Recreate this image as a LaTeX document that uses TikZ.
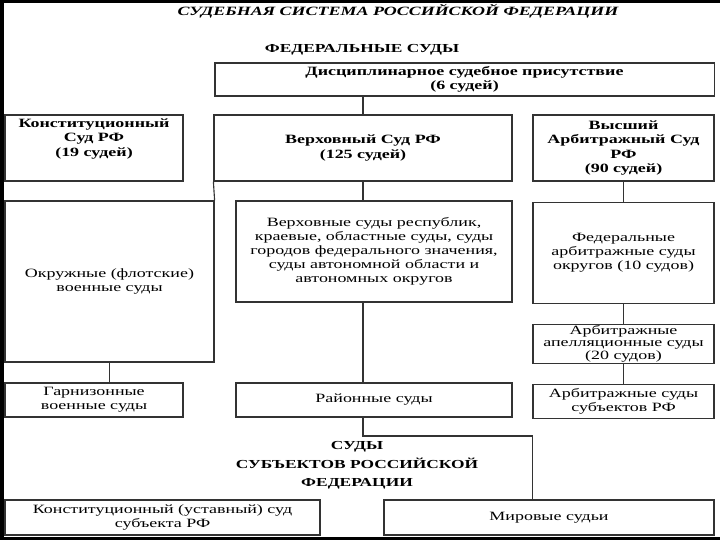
\documentclass[tikz,border=0pt]{standalone}
\usepackage{fontspec}
\setmainfont{Liberation Serif}[FakeStretch=1.42]
\usetikzlibrary{positioning}

\begin{document}
\begin{tikzpicture}[
    x=0.025cm, y=-0.025cm,
    node distance=0.5cm,
    box/.style={draw=black!80, line width=0.8pt, inner sep=0.5pt, align=center, font=\fontsize{9}{10}\selectfont},
    headbox/.style={box, font=\fontsize{9}{10}\selectfont\bfseries},
    heading/.style={align=center, font=\fontsize{8.7}{13}\selectfont\bfseries},
    link/.style={draw=black!80, line width=0.8pt}
]
% frame
\fill[black] (0,0) rectangle (720,540);
\fill[white] (4,3) rectangle (720,537);
\useasboundingbox (0,0) rectangle (720,540);

\node[heading, font=\fontsize{9}{11}\selectfont\bfseries\itshape] (title) at (398,11) {СУДЕБНАЯ СИСТЕМА РОССИЙСКОЙ ФЕДЕРАЦИИ};
\node[heading] (fed) at (362,50) {ФЕДЕРАЛЬНЫЕ СУДЫ};
\node[headbox, minimum width=12.475cm, minimum height=0.825cm] (disc) at (464.5,79.5) {
Дисциплинарное судебное присутствие\\(6 судей)
};
\node[headbox, minimum width=4.45cm, minimum height=1.65cm,
    label={[headbox, draw=none, anchor=north, yshift=-2.5pt]north:Конституционный\\Суд РФ\\(19 судей)}] (const) at (94,148) {};
\node[headbox, minimum width=7.45cm, minimum height=1.65cm] (verkh) at (363,148) {
Верховный Суд РФ\\(125 судей)
};
\node[headbox, minimum width=4.525cm, minimum height=1.65cm] (vysh) at (623.5,148) {
Высший\\Арбитражный Суд\\РФ\\(90 судей)
};
\node[box, minimum width=5.225cm, minimum height=4.025cm] (okruzh) at (109.5,281.5) {
Окружные (флотские)\\военные суды
};
\node[box, minimum width=6.9cm, minimum height=2.525cm] (respub) at (374,251.5) {
Верховные суды республик,\\краевые, областные суды, суды\\городов федерального значения,\\суды автономной области и\\автономных округов
};
\node[box, minimum width=4.525cm, minimum height=2.525cm, below=of vysh] (fedarb) {
Федеральные\\арбитражные суды\\округов (10 судов)
};
\node[box, minimum width=4.525cm, minimum height=0.975cm, below=of fedarb, font=\fontsize{9}{9}\selectfont] (apel) {
Арбитражные\\апелляционные суды\\(20 судов)
};
\node[box, minimum width=4.525cm, minimum height=0.85cm, below=of apel] (arbsub) {
Арбитражные суды\\субъектов РФ
};
\node[box, minimum width=4.45cm, minimum height=0.85cm] (garn) at (94,400) {
Гарнизонные\\военные суды
};
\node[box, minimum width=6.9cm, minimum height=0.85cm] (rayon) at (374,400) {Районные суды};
\node[heading] (subj) at (357,465.5) {СУДЫ\\СУБЪЕКТОВ РОССИЙСКОЙ\\ФЕДЕРАЦИИ};
\node[box, minimum width=7.875cm, minimum height=0.875cm] (konstsub) at (162.5,517.5) {
Конституционный (уставный) суд\\субъекта РФ
};
\node[box, minimum width=8.25cm, minimum height=0.875cm] (mirov) at (549,517.5) {Мировые судьи};
\coordinate (bend) at (363,436);

\draw[link] (verkh.north) -- (verkh.north |- disc.south);
\draw[link] (verkh.south west) -- (okruzh.north east);
\draw[link] (verkh.south) -- (verkh.south |- respub.north);
\draw[link] (vysh) -- (fedarb);
\draw[link] (fedarb) -- (apel);
\draw[link] (apel) -- (arbsub);
\draw[link, line width=1.2pt] (okruzh.south) -- (okruzh.south |- garn.north);
\draw[link] (verkh.south |- respub.south) -- (verkh.south |- rayon.north);
\draw[link] (verkh.south |- rayon.south) -- (bend) -| (vysh.west |- mirov.north);
\end{tikzpicture}
\end{document}
